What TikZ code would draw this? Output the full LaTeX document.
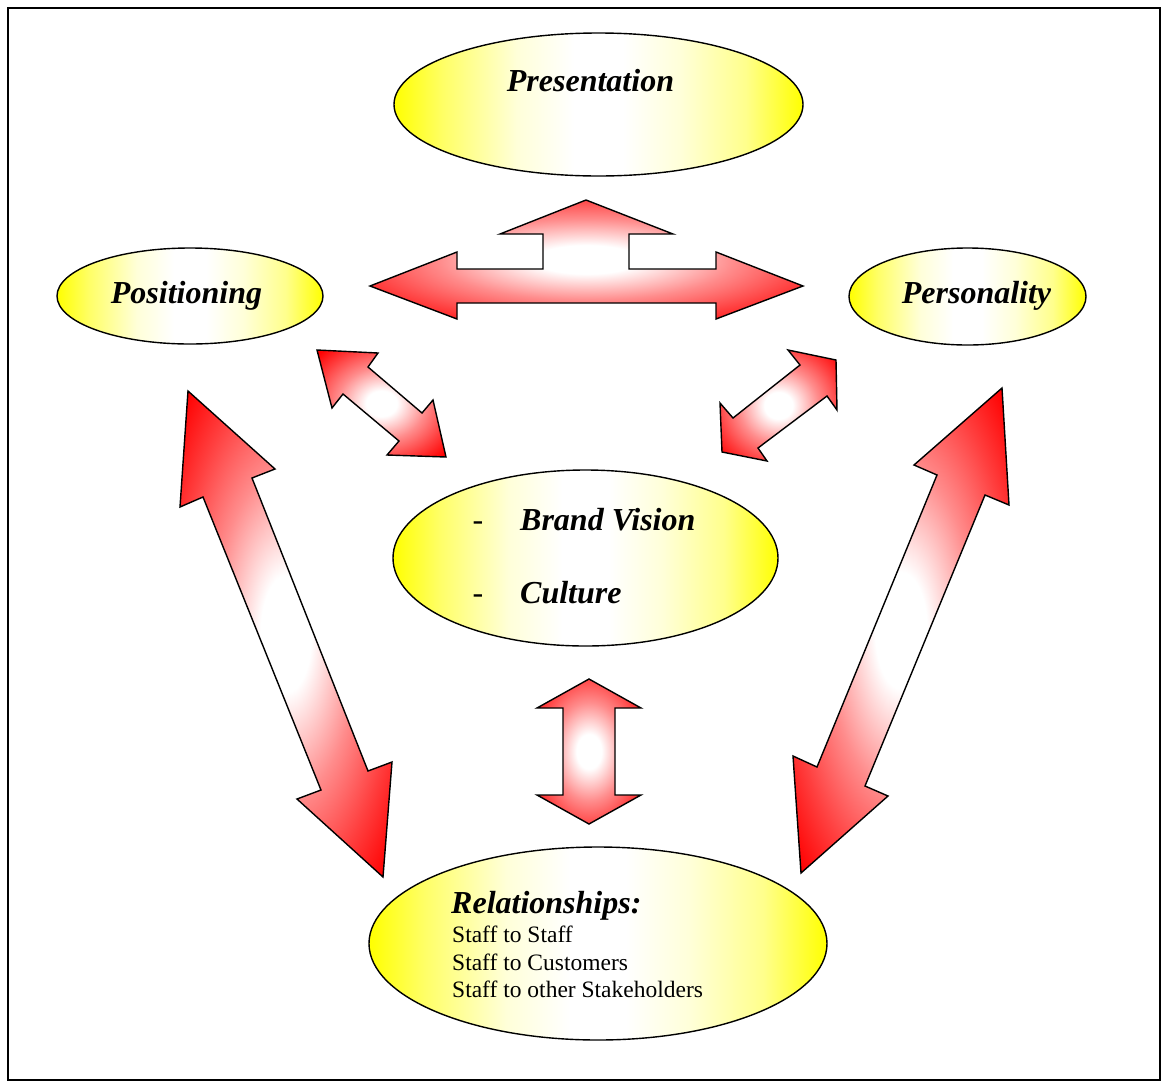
\documentclass[tikz,border=0pt]{standalone}
\usepackage{fontspec}
\setmainfont{Liberation Serif}
\usetikzlibrary{shapes.geometric}
\pgfdeclareradialshading{arrowshade}{\pgfpoint{0bp}{0bp}}{%
  color(0bp)=(white); color(6bp)=(white); color(17bp)=(red!45);
  color(26bp)=(red!75); color(34bp)=(red); color(50bp)=(red)}
\pgfdeclarehorizontalshading{ovalshade}{100bp}{%
  color(0bp)=(yellow); color(25bp)=(yellow); color(31bp)=(yellow!60);
  color(40bp)=(yellow!15); color(47bp)=(white); color(53bp)=(white);
  color(60bp)=(yellow!15); color(68bp)=(yellow!45); color(75bp)=(yellow);
  color(100bp)=(yellow)}
\begin{document}
\begin{tikzpicture}[x=1pt,y=-1pt,
  oval/.style={ellipse, draw=black, line width=1.4pt, inner sep=0pt,
    shading=ovalshade},
  dblarrow/.style={draw=black, line width=1.4pt, line join=miter,
    shading=arrowshade},
  lbl/.style={font=\fontsize{32}{36}\selectfont\bfseries\itshape, inner sep=0pt},
  dashlbl/.style={font=\fontsize{32}{36}\selectfont, inner sep=0pt},
  small/.style={font=\fontsize{23.5}{27}\selectfont, inner sep=0pt}]
\useasboundingbox (0,0) rectangle (1165,1085);
\draw[line width=1.2pt] (8,8) rectangle (1160,1080);

% arrows
\draw[dblarrow] (370,286) -- (457,252) -- (457,269) -- (543,269) -- (543,234) -- (500,234)
  -- (586,200) -- (673,234) -- (629,234) -- (629,269) -- (716,269) -- (716,252)
  -- (803,286) -- (716,319) -- (716,303) -- (457,303) -- (457,319) -- cycle;
\draw[dblarrow] (317,350) -- (378,353) -- (368,367) -- (422,413) -- (433,400) -- (446,457)
  -- (387,455) -- (399,441) -- (343,394) -- (332,408) -- cycle;
\draw[dblarrow] (836,360) -- (837,410) -- (827,396) -- (758,448) -- (767,461) -- (722,452)
  -- (720,403) -- (733,418) -- (800,365) -- (788,350) -- cycle;
\draw[dblarrow] (188,391) -- (275,469) -- (252,478) -- (368,771) -- (392,762) -- (383,877)
  -- (297,799) -- (321,790) -- (203,497) -- (180,507) -- cycle;
\draw[dblarrow] (1002,388) -- (1009,505) -- (985,495) -- (865,786) -- (888,796) -- (801,873)
  -- (793,756) -- (817,767) -- (937,475) -- (914,465) -- cycle;
\draw[dblarrow] (589,679) -- (641,708) -- (615,708) -- (615,795) -- (641,795) -- (589,824)
  -- (537,795) -- (563,795) -- (563,708) -- (537,708) -- cycle;

% ellipses
\node[oval, minimum width=409pt, minimum height=143pt] (pres) at (598.5,104.5) {};
\node[oval, minimum width=266pt, minimum height=96pt] (posi) at (190,296) {};
\node[oval, minimum width=237pt, minimum height=97pt] (pers) at (967.5,296.5) {};
\node[oval, minimum width=385pt, minimum height=176pt] (brand) at (585.5,558) {};
\node[oval, minimum width=458pt, minimum height=193pt] (rel) at (598,943.5) {};

% texts
\node[lbl, anchor=base] (tpres) at (590.5,91) {Presentation};
\node[lbl, anchor=base] (tposi) at (186.5,303) {Positioning};
\node[lbl, anchor=base] (tpers) at (976.5,303) {Personality};
\node[dashlbl, anchor=base] (d1) at (478,530) {-};
\node[lbl, anchor=base west] (tbv) at (520,530) {Brand Vision};
\node[dashlbl, anchor=base] (d2) at (478,603) {-};
\node[lbl, anchor=base west] (tcul) at (520,603) {Culture};
\node[lbl, anchor=base west] (trel) at (451,913) {Relationships:};
\node[small, anchor=base west] (s1) at (452,942) {Staff to Staff};
\node[small, anchor=base west] (s2) at (452,970) {Staff to Customers};
\node[small, anchor=base west] (s3) at (452,997) {Staff to other Stakeholders};
\end{tikzpicture}
\end{document}
